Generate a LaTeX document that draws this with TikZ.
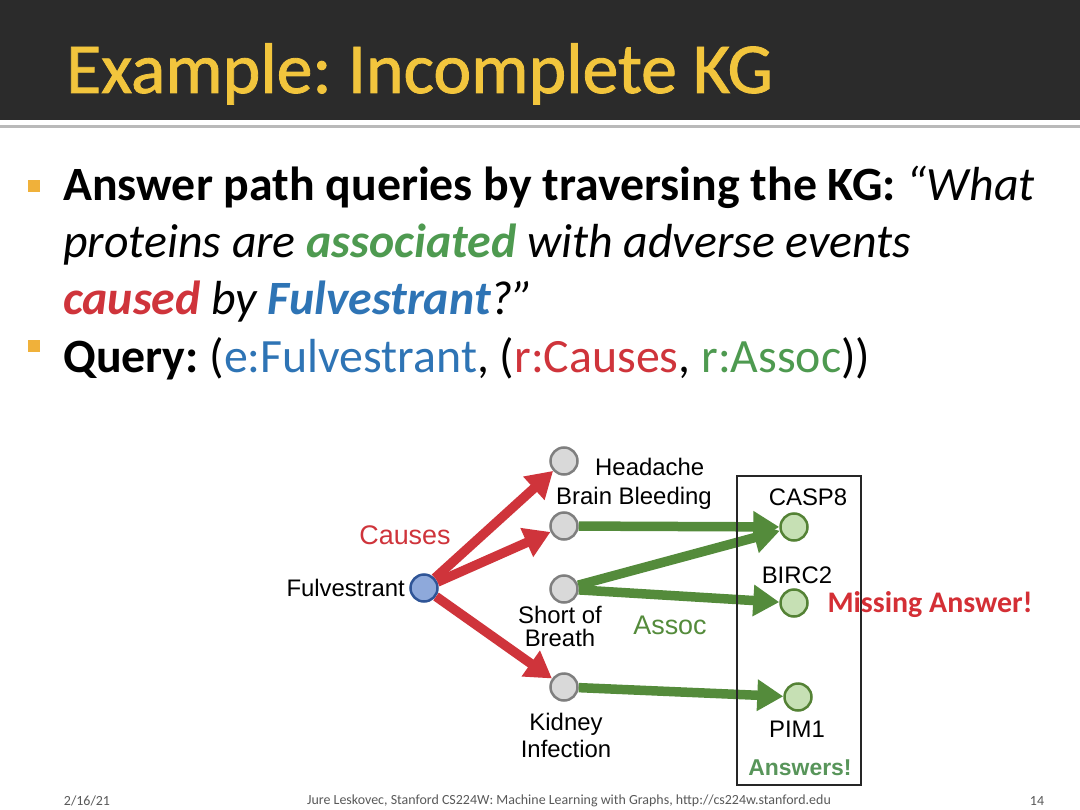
\documentclass[tikz,border=0pt]{standalone}
\usepackage{fontspec}
\setmainfont{Carlito}
\newfontfamily\titlefont[FakeBold=1.2]{Carlito}
\newfontfamily\diagfont{Liberation Sans}
\usetikzlibrary{arrows.meta}
\frenchspacing
\definecolor{barcol}{HTML}{2B2B2B}
\definecolor{titlecol}{HTML}{F2C53D}
\definecolor{bulletcol}{HTML}{F0B13A}
\definecolor{kgred}{HTML}{CF343B}
\definecolor{kggreen}{HTML}{548B3B}
\definecolor{txtgreen}{HTML}{4E9A50}
\definecolor{kgblue}{HTML}{2E74B5}
\definecolor{footcol}{HTML}{595959}

\tikzset{
  node base/.style={circle,line width=2.5bp,minimum size=27bp,inner sep=0pt},
  event/.style={node base,draw={rgb,255:red,127;green,127;blue,127},fill={rgb,255:red,217;green,217;blue,217}},
  protein/.style={node base,draw={rgb,255:red,84;green,130;blue,53},fill={rgb,255:red,198;green,224;blue,180}},
  drug/.style={node base,draw={rgb,255:red,47;green,85;blue,151},fill={rgb,255:red,142;green,169;blue,219}},
  causes/.style={kgred,line width=9.5bp,-{Triangle[length=26bp,width=30bp]}},
  assoc/.style={kggreen,line width=9.5bp,-{Triangle[length=26bp,width=30bp]}},
  lbl/.style={font=\diagfont\fontsize{24}{26}\selectfont,inner sep=0pt,align=center},
  line/.style={anchor=base west,inner sep=0pt,font=\fontsize{48}{56}\selectfont},
  bul/.style={fill=bulletcol,minimum size=12bp,inner sep=0pt},
  foot/.style={inner sep=0pt,footcol,font=\fontsize{14}{16}\selectfont}
}

\begin{document}
\begin{tikzpicture}[x=1bp,y=-1bp]
\useasboundingbox (0,0) rectangle (1080,810);
\fill[white] (0,0) rectangle (1080,810);
% title bar
\fill[barcol] (0,0) rectangle (1080,120);
\draw[gray!55,line width=3bp] (0,126)--(1080,126);
\node[anchor=base west,inner sep=0pt,titlecol,font=\titlefont\fontsize{72}{74}\selectfont] (title) at (66,93) {Example: Incomplete KG};

% bullets
\node[bul] (b1) at (34,186) {};
\node[bul] (b2) at (34,346) {};
\node[line] (l1) at (63,200) {\textbf{Answer path queries by traversing the KG:} \textit{“What}};
\node[line] (l2) at (63,257) {\textit{proteins are \textcolor{txtgreen}{\textbf{associated}} with adverse events}};
\node[line] (l3) at (63,314) {\textit{\textcolor{kgred}{\textbf{caused}} by \textcolor{kgblue}{\textbf{Fulvestrant}}?”}};
\node[line] (l4) at (63,372) {\textbf{Query:} (\textcolor{kgblue}{e:Fulvestrant}, (\textcolor{kgred}{r:Causes}, \textcolor{txtgreen}{r:Assoc}))};

% graph
\node[drug] (fulv) at (424,588) {};
\node[event] (head) at (564,461) {};
\node[event] (brain) at (564,526) {};
\node[event] (breath) at (564,589) {};
\node[event] (kidney) at (564,687) {};
\node[protein] (casp) at (794,527) {};
\node[protein] (birc) at (794,603) {};
\node[protein] (pim) at (798,697) {};

\draw[causes] (fulv) -- (head);
\draw[causes] (fulv) -- (brain);
\draw[causes] (fulv) -- (kidney);
\draw[assoc] (brain) -- (casp);
\draw[assoc] (breath) -- (casp);
\draw[assoc] (breath) -- (birc);
\draw[assoc] (kidney) -- (pim);

\node[lbl,anchor=east] (fulvl) at (405,588) {Fulvestrant};
\node[lbl,anchor=west] (headl) at (595,467) {Headache};
\node[lbl] (brainl) at (634,498) {Brain Bleeding};
\node[lbl] (breathl) at (560,626) {Short of\\[-3bp]Breath};
\node[lbl] (kidneyl) at (566,735) {Kidney\\[1bp]Infection};
\node[lbl] (caspl) at (808,497) {CASP8};
\node[lbl] (bircl) at (797,575) {BIRC2};
\node[lbl] (piml) at (797,729) {PIM1};
\node[lbl,kgred,font=\diagfont\fontsize{27}{29}\selectfont] (causesl) at (405,535) {Causes};
\node[lbl,kggreen,font=\diagfont\fontsize{27}{29}\selectfont] (assocl) at (670,625) {Assoc};

% answer box
\draw[black!85,line width=2.5bp] (737,476) rectangle (861,785);
\node[lbl,font=\diagfont\bfseries\fontsize{23}{25}\selectfont,txtgreen!80!gray] (ans) at (800,768) {Answers!};
\node[inner sep=0pt,kgred!90!red,font=\bfseries\fontsize{30}{32}\selectfont] (miss) at (930,605) {Missing Answer!};

% footer
\node[foot] (date) at (87,801) {2/16/21};
\node[foot] (src) at (569,801) {Jure Leskovec, Stanford CS224W: Machine Learning with Graphs, http://cs224w.stanford.edu};
\node[foot] (page) at (1037,801) {14};
\end{tikzpicture}
\end{document}
